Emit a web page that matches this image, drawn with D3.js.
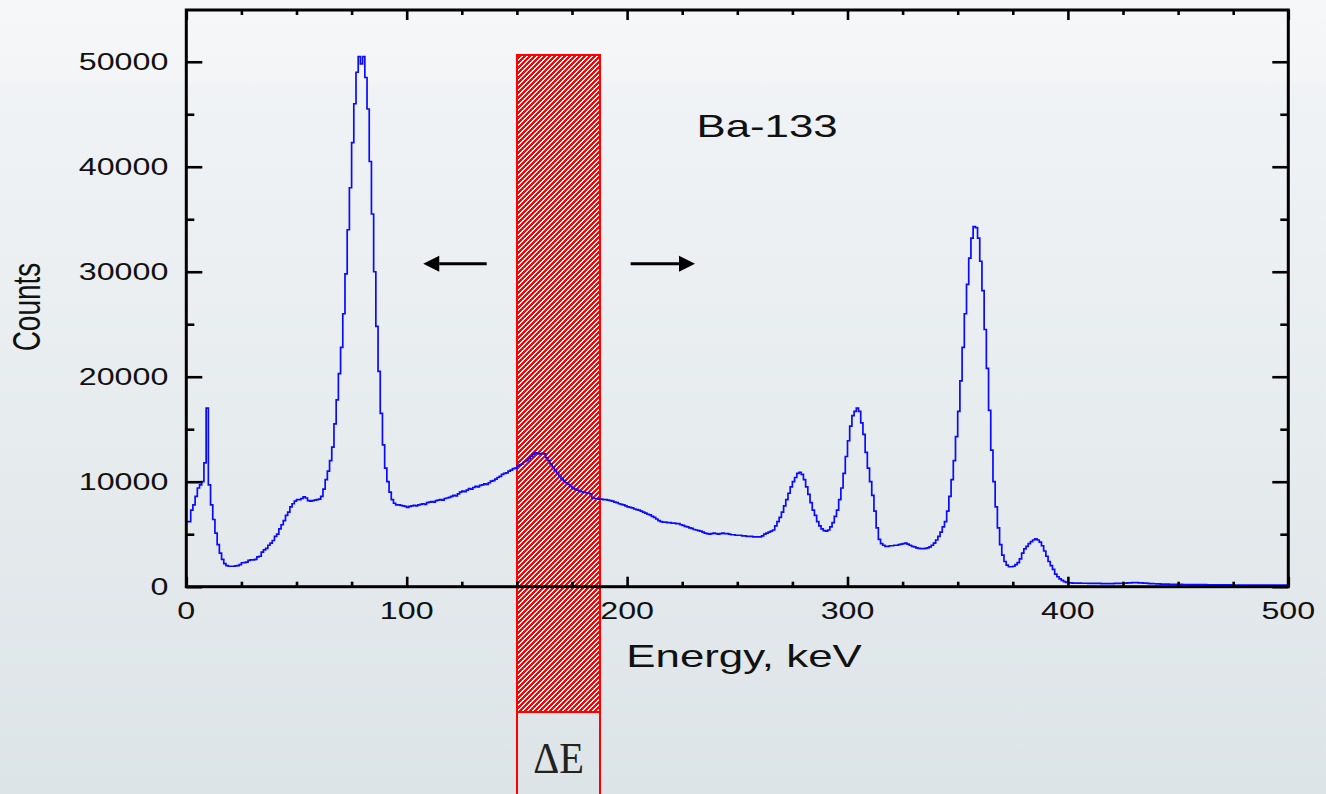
<!DOCTYPE html>
<html>
<head>
<meta charset="utf-8">
<script src="https://cdn.jsdelivr.net/npm/d3@7"></script>
<style>
  html, body { margin: 0; padding: 0; overflow: hidden; }
  svg { display: block; }
</style>
</head>
<body>
<svg id="chart" width="1326" height="794"></svg>
<script>
// Ba-133 gamma spectrum, 1 keV channels starting at 0 keV
const binWidth = 1;
const counts = [
  6200, 6200, 7300, 7800, 8600, 9400, 9700, 10000, 11800, 17000,
  9700, 7800, 6400, 5100, 4000, 3200, 2600, 2200, 2000, 1950,
  1950, 1950, 1980, 2000, 2100, 2280, 2300, 2350, 2500, 2550,
  2560, 2600, 2850, 2900, 3300, 3500, 3650, 3950, 4150, 4400,
  4800, 5000, 5500, 5900, 6300, 6800, 7100, 7600, 7900, 8150,
  8300, 8300, 8400, 8550, 8450, 8200, 8150, 8200, 8250, 8300,
  8350, 8600, 9300, 10200, 11000, 12000, 13300, 15500, 17800, 20300,
  22800, 26000, 29800, 34000, 38000, 42300, 46000, 49000, 50500, 49800,
  50500, 48500, 45500, 40500, 35500, 30000, 24800, 20500, 16500, 13500,
  11300, 10000, 9000, 8300, 7950, 7800, 7800, 7750, 7700, 7650,
  7550, 7650, 7700, 7750, 7700, 7800, 7850, 7900, 7850, 8000,
  8050, 8100, 8050, 8200, 8250, 8300, 8250, 8400, 8450, 8500,
  8600, 8700, 8650, 8850, 9000, 9100, 9050, 9200, 9350, 9300,
  9450, 9550, 9500, 9650, 9700, 9800, 9750, 9900, 10050, 10100,
  10250, 10400, 10500, 10700, 10800, 10850, 11000, 11100, 11250, 11300,
  11500, 11600, 11700, 11900, 12000, 12200, 12400, 12600, 12750, 12700,
  12650, 12700, 12650, 12300, 12000, 11700, 11400, 11100, 10800, 10550,
  10300, 10100, 9900, 9750, 9550, 9400, 9300, 9200, 9100, 9050,
  9000, 8950, 8900, 8850, 8450, 8400, 8400, 8350, 8350, 8300,
  8300, 8250, 8200, 8150, 8050, 8000, 7900, 7850, 7800, 7700,
  7600, 7550, 7500, 7400, 7350, 7300, 7200, 7100, 7000, 6900,
  6850, 6700, 6600, 6450, 6300, 6200, 6150, 6150, 6100, 6100,
  6050, 6050, 6000, 6000, 5900, 5850, 5750, 5700, 5600, 5550,
  5450, 5400, 5350, 5300, 5200, 5100, 5050, 5000, 5050, 5100,
  5050, 5000, 5050, 5100, 5050, 5050, 5000, 4950, 4950, 4900,
  4900, 4900, 4850, 4850, 4800, 4800, 4800, 4750, 4750, 4750,
  4750, 4850, 5000, 5100, 5200, 5300, 5400, 5800, 6200, 6600,
  7100, 7700, 8300, 8900, 9500, 10000, 10400, 10800, 10900, 10700,
  10200, 9500, 8800, 8000, 7300, 6800, 6200, 5800, 5500, 5350,
  5300, 5400, 5700, 6100, 6700, 7300, 8300, 9400, 10800, 12400,
  13900, 15300, 16300, 16700, 17000, 16700, 15600, 14500, 12800, 11300,
  10000, 8700, 7200, 5600, 4500, 4100, 3950, 3850, 3850, 3900,
  3900, 3950, 3950, 4000, 4050, 4100, 4150, 4050, 3950, 3850,
  3800, 3700, 3650, 3620, 3620, 3650, 3700, 3800, 3950, 4150,
  4450, 4800, 5200, 5700, 6200, 7200, 8600, 10200, 12000, 14300,
  16700, 19600, 22800, 26000, 28800, 31300, 33200, 34300, 34200, 33200,
  31000, 28200, 24500, 20800, 16800, 13000, 10000, 7600, 5600, 4000,
  3000, 2400, 2050, 1900, 1900, 1950, 2100, 2300, 2650, 3200,
  3600, 3850, 4100, 4300, 4450, 4550, 4450, 4250, 3900, 3400,
  2900, 2400, 2000, 1650, 1200, 950, 750, 600, 480, 400,
  370, 360, 350, 350, 340, 340, 330, 330, 330, 320,
  320, 320, 310, 310, 310, 300, 300, 300, 300, 300,
  300, 310, 310, 320, 330, 340, 350, 360, 370, 380,
  380, 380, 370, 360, 350, 340, 320, 300, 290, 280,
  270, 260, 250, 250, 240, 240, 230, 230, 230, 220,
  220, 220, 210, 210, 210, 200, 200, 200, 200, 190,
  190, 190, 190, 180, 180, 180, 180, 180, 170, 170,
  170, 170, 170, 170, 160, 160, 160, 160, 160, 160,
  160, 160, 150, 150, 150, 150, 150, 150, 150, 150,
  150, 150, 150, 150, 150, 150, 150, 150, 150, 150
];

const energyDomain = [0, 500];
const countDomain = [0, 54930];
const xMajorTicks = [0, 100, 200, 300, 400, 500];
const xMinorTicks = [25, 50, 75, 125, 150, 175, 225, 250, 275, 325, 350, 375, 425, 450, 475];
const yMajorTicks = [0, 10000, 20000, 30000, 40000, 50000];
const yMinorTicks = [5000, 15000, 25000, 35000, 45000];

// energy window ΔE and its upper edge (counts)
const windowEnergy = [150, 187.5];
const windowTopCount = 50600;
// scan direction arrows: [start keV, tip keV] at a common count level
const arrowLevel = 30760;
const arrowSpans = [[136.3, 107.5], [201.6, 230.8]];
const sourceLabel = "Ba-133";
const sourceLabelAt = [263.5, 42800];
const xTitle = "Energy, keV";
const yTitle = "Counts";
const windowLabel = "ΔE";

const W = 1326, H = 794;
const plot = { left: 186.3, right: 1288.3, top: 10, bottom: 586.7 };
const stretch = 1.37;     // horizontal widening of sans-serif text
const font = "Arial, 'Liberation Sans', Helvetica, sans-serif";

const svg = d3.select("#chart");
const defs = svg.append("defs");

// page background
const bg = defs.append("linearGradient").attr("id", "bg")
  .attr("x1", 0).attr("y1", 0).attr("x2", 0).attr("y2", 1);
bg.append("stop").attr("offset", 0).attr("stop-color", "#f5f7f9");
bg.append("stop").attr("offset", 0.1).attr("stop-color", "#f3f5f7");
bg.append("stop").attr("offset", 0.11).attr("stop-color", "#f0f3f5");
bg.append("stop").attr("offset", 1).attr("stop-color", "#dde4e7");
svg.append("rect").attr("width", W).attr("height", H).attr("fill", "url(#bg)");

// red diagonal hatch: pixel staircase, 3 red / 2 white per row, rising to the right
const P = 5;
const pat = defs.append("pattern").attr("id", "hatch")
  .attr("patternUnits", "userSpaceOnUse").attr("width", P).attr("height", P);
pat.append("rect").attr("width", P).attr("height", P).attr("fill", "#ffffff");
d3.range(P).forEach(row => {
  const start = (P - 1 - row);
  [start, start - P].forEach(cx =>
    pat.append("rect").attr("x", cx).attr("y", row).attr("width", 3).attr("height", 1)
      .attr("fill", "#ff0000").attr("shape-rendering", "crispEdges"));
});

defs.append("clipPath").attr("id", "plotClip").append("rect")
  .attr("x", plot.left).attr("y", plot.top)
  .attr("width", plot.right - plot.left).attr("height", plot.bottom - plot.top);

const x = d3.scaleLinear().domain(energyDomain).range([plot.left, plot.right]);
const y = d3.scaleLinear().domain(countDomain).range([plot.bottom, plot.top]);

// energy window box, extending below the axis to hold its label
const winX0 = Math.round(x(windowEnergy[0])), winX1 = Math.round(x(windowEnergy[1]));
const winTop = Math.round(y(windowTopCount));
const winBoxBottom = Math.round(plot.bottom + 125);
svg.append("rect")
  .attr("x", winX0).attr("y", winTop)
  .attr("width", winX1 - winX0).attr("height", winBoxBottom - winTop)
  .attr("fill", "url(#hatch)").attr("stroke", "#ff0000").attr("stroke-width", 2);
svg.append("path")
  .attr("d", `M${winX0},${winBoxBottom}V${H + 2}M${winX1},${winBoxBottom}V${H + 2}`)
  .attr("stroke", "#ff0000").attr("stroke-width", 2).attr("fill", "none");
svg.append("text")
  .attr("transform", `translate(${(winX0 + winX1) / 2},773) scale(0.92,1)`)
  .attr("text-anchor", "middle")
  .attr("font-family", "'Liberation Serif', 'Times New Roman', 'DejaVu Serif', serif")
  .attr("font-size", 44).attr("fill", "#222")
  .text(windowLabel);

// spectrum as a step histogram
const pts = counts.map((c, i) => [i * binWidth, c]);
pts.push([counts.length * binWidth, counts[counts.length - 1]]);
const line = d3.line().x(d => x(d[0])).y(d => y(d[1])).curve(d3.curveStepAfter);
svg.append("path").datum(pts)
  .attr("clip-path", "url(#plotClip)")
  .attr("d", line).attr("fill", "none")
  .attr("stroke", "#0a0aff").attr("stroke-width", 1.7)
  .attr("stroke-linejoin", "miter");

// axes with inward ticks on all four sides
function tickAxis(axisFn, scale, ticks, size, translate) {
  const g = svg.append("g").attr("transform", translate)
    .call(axisFn(scale).tickValues(ticks).tickSize(size).tickFormat(""));
  g.select(".domain").remove();
  g.selectAll(".tick line").attr("stroke", "#000").attr("stroke-width", 2.6);
  return g;
}
tickAxis(d3.axisBottom, x, xMajorTicks, -10, `translate(0,${plot.bottom})`);
tickAxis(d3.axisBottom, x, xMinorTicks, -5, `translate(0,${plot.bottom})`);
tickAxis(d3.axisTop, x, xMajorTicks, -10, `translate(0,${plot.top})`);
tickAxis(d3.axisTop, x, xMinorTicks, -5, `translate(0,${plot.top})`);
tickAxis(d3.axisLeft, y, yMajorTicks, -16, `translate(${plot.left},0)`);
tickAxis(d3.axisLeft, y, yMinorTicks, -8, `translate(${plot.left},0)`);
tickAxis(d3.axisRight, y, yMajorTicks, -16, `translate(${plot.right},0)`);
tickAxis(d3.axisRight, y, yMinorTicks, -8, `translate(${plot.right},0)`);

svg.append("rect")
  .attr("x", plot.left).attr("y", plot.top)
  .attr("width", plot.right - plot.left).attr("height", plot.bottom - plot.top)
  .attr("fill", "none").attr("stroke", "#000").attr("stroke-width", 3);

function wideText(px, py, txt, size, anchor) {
  return svg.append("text")
    .attr("transform", `translate(${px},${py}) scale(${stretch},1)`)
    .attr("text-anchor", anchor)
    .attr("font-family", font).attr("font-size", size).attr("fill", "#111")
    .text(txt);
}

// tick labels
xMajorTicks.forEach(v => wideText(x(v), plot.bottom + 32, d3.format("d")(v), 23.5, "middle"));
yMajorTicks.forEach(v => wideText(plot.left - 18, y(v) + 8.5, d3.format("d")(v), 23.5, "end"));

// axis titles and source label
wideText(744, 667, xTitle, 32, "middle");
svg.append("text")
  .attr("transform", `translate(40,307) scale(${stretch},1) rotate(-90)`)
  .attr("text-anchor", "middle")
  .attr("font-family", font).attr("font-size", 28).attr("fill", "#111")
  .text(yTitle);
wideText(x(sourceLabelAt[0]), y(sourceLabelAt[1]), sourceLabel, 32, "middle");

// direction arrows
arrowSpans.forEach(([from, to]) => {
  const x0 = x(from), x1 = x(to), yy = y(arrowLevel);
  const dir = Math.sign(x1 - x0);
  const headLen = 16, headHalf = 8;
  svg.append("line")
    .attr("x1", x0).attr("y1", yy).attr("x2", x1 - dir * headLen).attr("y2", yy)
    .attr("stroke", "#000").attr("stroke-width", 3);
  svg.append("path")
    .attr("d", `M${x1},${yy}L${x1 - dir * headLen},${yy - headHalf}L${x1 - dir * headLen},${yy + headHalf}Z`)
    .attr("fill", "#000");
});
</script>
</body>
</html>
